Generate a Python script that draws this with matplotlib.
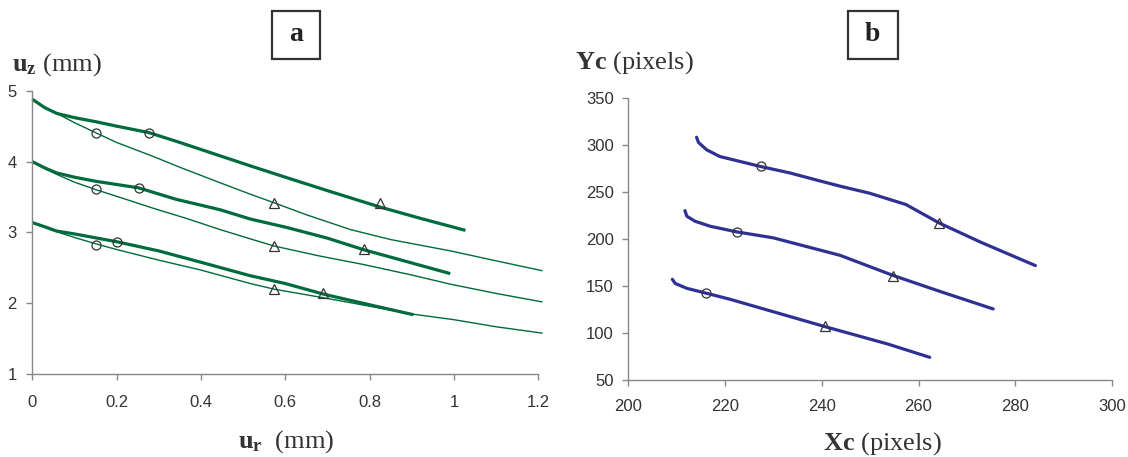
import matplotlib
matplotlib.use("Agg")
import matplotlib.pyplot as plt
from matplotlib.patches import Rectangle

plt.rcParams['mathtext.fontset'] = 'custom'
plt.rcParams['mathtext.rm'] = 'Liberation Serif'
plt.rcParams['mathtext.bf'] = 'Liberation Serif:bold'
plt.rcParams['mathtext.it'] = 'Liberation Serif:italic'

# ---------------- Panel a data (u_r, u_z in mm) ----------------
a_top_thick_x = [0, 0.03, 0.058, 0.1, 0.153, 0.2, 0.276, 0.35, 0.446, 0.517, 0.6, 0.7, 0.824, 0.92, 1.027]
a_top_thick_y = [4.88, 4.76, 4.68, 4.62, 4.56, 4.50, 4.41, 4.27, 4.08, 3.94, 3.78, 3.59, 3.36, 3.20, 3.03]
a_top_thin_x = [0, 0.03, 0.058, 0.1, 0.153, 0.2, 0.288, 0.35, 0.446, 0.517, 0.573, 0.65, 0.755, 0.85, 0.992, 1.1, 1.21]
a_top_thin_y = [4.88, 4.76, 4.68, 4.55, 4.40, 4.27, 4.07, 3.92, 3.70, 3.54, 3.42, 3.25, 3.04, 2.90, 2.74, 2.60, 2.46]

a_mid_thick_x = [0, 0.03, 0.058, 0.1, 0.153, 0.252, 0.34, 0.446, 0.517, 0.604, 0.7, 0.784, 0.9, 0.991]
a_mid_thick_y = [4.00, 3.91, 3.84, 3.78, 3.72, 3.63, 3.47, 3.32, 3.19, 3.07, 2.92, 2.76, 2.57, 2.42]
a_mid_thin_x = [0, 0.03, 0.058, 0.1, 0.153, 0.221, 0.288, 0.37, 0.446, 0.517, 0.573, 0.68, 0.784, 0.9, 0.992, 1.1, 1.21]
a_mid_thin_y = [4.00, 3.90, 3.82, 3.71, 3.60, 3.47, 3.34, 3.19, 3.04, 2.91, 2.81, 2.67, 2.55, 2.40, 2.27, 2.14, 2.02]

a_bot_thick_x = [0, 0.03, 0.058, 0.1, 0.2, 0.3, 0.4, 0.517, 0.6, 0.691, 0.8, 0.904]
a_bot_thick_y = [3.14, 3.08, 3.02, 2.98, 2.87, 2.74, 2.58, 2.39, 2.28, 2.13, 1.98, 1.84]
a_bot_thin_x = [0, 0.03, 0.058, 0.1, 0.151, 0.2, 0.3, 0.4, 0.517, 0.574, 0.69, 0.8, 0.9, 1.0, 1.1, 1.21]
a_bot_thin_y = [3.14, 3.07, 3.01, 2.93, 2.84, 2.76, 2.61, 2.47, 2.28, 2.20, 2.08, 1.96, 1.85, 1.77, 1.67, 1.58]

a_circ_x = [0.151, 0.276, 0.151, 0.252, 0.151, 0.200]
a_circ_y = [4.41, 4.41, 3.61, 3.63, 2.83, 2.86]
a_tri_x = [0.573, 0.824, 0.573, 0.786, 0.573, 0.690]
a_tri_y = [3.42, 3.42, 2.81, 2.77, 2.20, 2.14]

a_xticks = [0, 0.2, 0.4, 0.6, 0.8, 1.0, 1.2]
a_xticklabels = ['0', '0.2', '0.4', '0.6', '0.8', '1', '1.2']
a_yticks = [1, 2, 3, 4, 5]

# ---------------- Panel b data (Xc, Yc in pixels) ----------------
b_top_x = [214.2, 214.6, 216.3, 219.0, 223.2, 227.4, 233.5, 238.6, 243.8, 249.9, 257.4, 264.2, 272.8, 284.1]
b_top_y = [308.0, 302.4, 294.6, 287.5, 282.2, 276.9, 270.0, 263.0, 256.0, 248.5, 236.5, 217.0, 196.5, 171.6]
b_mid_x = [211.8, 212.2, 213.9, 217.0, 222.5, 230.0, 243.8, 254.8, 264.9, 275.4]
b_mid_y = [230.0, 224.0, 218.7, 213.4, 207.4, 201.1, 182.5, 161.0, 143.3, 125.5]
b_bot_x = [209.2, 209.8, 212.2, 216.0, 221.1, 240.7, 253.6, 262.3]
b_bot_y = [157.0, 152.6, 147.4, 142.5, 135.8, 106.7, 88.3, 74.1]

b_circ_x = [227.4, 222.6, 216.1]
b_circ_y = [277.0, 207.0, 142.0]
b_tri_x = [264.2, 254.8, 240.7]
b_tri_y = [217.0, 161.0, 107.0]

b_xticks = [200, 220, 240, 260, 280, 300]
b_yticks = [50, 100, 150, 200, 250, 300, 350]

GREEN = '#006B3C'
NAVY = '#2E3192'
MK = '#333333'
SPINE = '#888888'
TXT = '#333333'
TICK_FS = 12

fig = plt.figure(figsize=(11.28, 4.57), dpi=100)
axa = fig.add_axes([0.0286, 0.1810, 0.4487, 0.6205])
axb = fig.add_axes([0.5565, 0.1685, 0.4297, 0.6177])

for ax in (axa, axb):
    for s in ('top', 'right'):
        ax.spines[s].set_visible(False)
    for s in ('left', 'bottom'):
        ax.spines[s].set_color(SPINE)
        ax.spines[s].set_linewidth(1.0)
    ax.tick_params(direction='out', length=4, width=1, color=SPINE,
                   labelcolor=TXT, labelsize=TICK_FS)

# Panel a
for xs, ys in [(a_top_thin_x, a_top_thin_y), (a_mid_thin_x, a_mid_thin_y), (a_bot_thin_x, a_bot_thin_y)]:
    axa.plot(xs, ys, color=GREEN, lw=1.0, clip_on=False, solid_capstyle='butt')
for xs, ys in [(a_top_thick_x, a_top_thick_y), (a_mid_thick_x, a_mid_thick_y), (a_bot_thick_x, a_bot_thick_y)]:
    axa.plot(xs, ys, color=GREEN, lw=2.3, clip_on=False, solid_capstyle='butt')
axa.plot(a_circ_x, a_circ_y, 'o', ms=6.5, mfc='none', mec=MK, mew=0.9, ls='none')
axa.plot(a_tri_x, a_tri_y, '^', ms=7, mfc='none', mec=MK, mew=0.9, ls='none')
axa.set_xlim(0, 1.2)
axa.set_ylim(1, 5)
axa.set_xticks(a_xticks)
axa.set_xticklabels(a_xticklabels, family='Liberation Sans', fontsize=TICK_FS)
axa.set_yticks(a_yticks)
axa.set_yticklabels([str(v) for v in a_yticks], family='Liberation Sans', fontsize=TICK_FS)
axa.tick_params(axis='x', pad=11)
axa.tick_params(axis='y', pad=7)

# Panel b
for xs, ys in [(b_top_x, b_top_y), (b_mid_x, b_mid_y), (b_bot_x, b_bot_y)]:
    axb.plot(xs, ys, color=NAVY, lw=2.3, solid_capstyle='round')
axb.plot(b_circ_x, b_circ_y, 'o', ms=6.5, mfc='none', mec=MK, mew=0.9, ls='none')
axb.plot(b_tri_x, b_tri_y, '^', ms=7, mfc='none', mec=MK, mew=0.9, ls='none')
axb.set_xlim(200, 300)
axb.set_ylim(50, 350)
axb.set_xticks(b_xticks)
axb.set_xticklabels([str(v) for v in b_xticks], family='Liberation Sans', fontsize=TICK_FS)
axb.set_yticks(b_yticks)
axb.set_yticklabels([str(v) for v in b_yticks], family='Liberation Sans', fontsize=TICK_FS)
axb.tick_params(axis='x', pad=10)
axb.tick_params(axis='y', pad=6)

# Axis titles
fs = 19
fig.text(0.0105, 0.845, r'$\mathbf{u_z}$ (mm)', family='Liberation Serif', fontsize=fs,
         color=TXT, ha='left', va='baseline')
fig.text(0.2537, 0.0197, r'$\mathbf{u_r}$  (mm)', family='Liberation Serif', fontsize=fs,
         color=TXT, ha='center', va='baseline')
fig.text(0.5094, 0.8505, r'$\mathbf{Yc}$ (pixels)', family='Liberation Serif', fontsize=fs,
         color=TXT, ha='left', va='baseline')
fig.text(0.7825, 0.0153, r'$\mathbf{Xc}$ (pixels)', family='Liberation Serif', fontsize=fs,
         color=TXT, ha='center', va='baseline')

# Panel letters in boxes
W, H = 1128.0, 457.0
for (x0, x1, letter) in [(271.7, 320.5, 'a'), (847.7, 897.6, 'b')]:
    y0, y1 = 10.7, 59.0
    fig.patches.append(Rectangle((x0 / W, 1 - y1 / H), (x1 - x0) / W, (y1 - y0) / H,
                                 transform=fig.transFigure, fill=False,
                                 edgecolor='#333333', linewidth=1.6))
    fig.text((x0 + x1) / 2 / W, 1 - (y0 + y1) / 2 / H, letter, family='Liberation Serif',
             fontweight='bold', fontsize=20, color='#222222', ha='center', va='center')

fig.savefig('out.png', dpi=100)
